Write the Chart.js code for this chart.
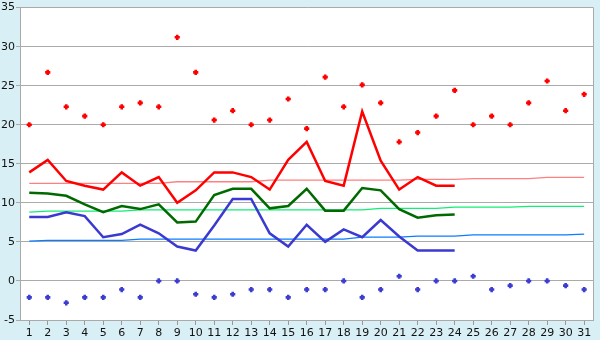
<!DOCTYPE html>
<html>
<head>
<meta charset="utf-8">
<script src="https://cdn.jsdelivr.net/npm/chart.js@4/dist/chart.umd.min.js"></script>
<style>
  html, body { margin: 0; padding: 0; background: #d8eff6; }
  canvas { display: block; }
</style>
</head>
<body>
<canvas id="chart" width="600" height="340"></canvas>
<script>
// Days of the month
const days = ['1','2','3','4','5','6','7','8','9','10','11','12','13','14','15','16',
              '17','18','19','20','21','22','23','24','25','26','27','28','29','30','31'];

// Daily extremes (points)
const maxPoints = [20.0, 26.7, 22.3, 21.1, 20.0, 22.3, 22.8, 22.3, 31.2, 26.7, 20.6, 21.8, 20.0, 20.6, 23.3, 19.5,
                   26.1, 22.3, 25.1, 22.8, 17.8, 19.0, 21.1, 24.4, 20.0, 21.1, 20.0, 22.8, 25.6, 21.8, 23.9];
const minPoints = [-2.1, -2.1, -2.8, -2.1, -2.1, -1.1, -2.1, 0.0, 0.0, -1.7, -2.1, -1.7, -1.1, -1.1, -2.1, -1.1,
                   -1.1, 0.0, -2.1, -1.1, 0.6, -1.1, 0.0, 0.0, 0.6, -1.1, -0.6, 0.0, 0.0, -0.6, -1.1];

// Daily max / mean / min lines (month in progress)
const highLine = [13.9, 15.5, 12.8, 12.2, 11.7, 13.9, 12.2, 13.3, 10.0, 11.6, 13.9, 13.9, 13.3, 11.7, 15.5, 17.8,
                  12.8, 12.2, 21.7, 15.4, 11.7, 13.3, 12.2, 12.2, null, null, null, null, null, null, null];
const meanLine = [11.3, 11.2, 10.9, 9.8, 8.8, 9.6, 9.2, 9.8, 7.5, 7.6, 11.0, 11.8, 11.8, 9.3, 9.6, 11.8,
                  9.0, 9.0, 11.9, 11.6, 9.2, 8.1, 8.4, 8.5, null, null, null, null, null, null, null];
const lowLine  = [8.2, 8.2, 8.8, 8.3, 5.6, 6.0, 7.2, 6.1, 4.4, 3.9, 7.1, 10.5, 10.5, 6.1, 4.4, 7.2,
                  5.0, 6.6, 5.6, 7.8, 5.7, 3.9, 3.9, 3.9, null, null, null, null, null, null, null];

// Long-term normals
const normalHigh = [12.5, 12.5, 12.5, 12.5, 12.5, 12.5, 12.5, 12.5, 12.7, 12.7, 12.7, 12.7, 12.7, 12.9, 12.9, 12.9,
                    12.9, 12.9, 12.9, 12.9, 12.9, 13.0, 13.0, 13.0, 13.1, 13.1, 13.1, 13.1, 13.25, 13.25, 13.25];
const normalMean = [8.8, 8.95, 8.95, 8.95, 8.95, 8.95, 9.1, 9.1, 9.1, 9.1, 9.1, 9.1, 9.1, 9.1, 9.1, 9.1,
                    9.1, 9.1, 9.1, 9.3, 9.3, 9.3, 9.3, 9.45, 9.45, 9.45, 9.45, 9.55, 9.55, 9.55, 9.55];
const normalLow  = [5.1, 5.2, 5.2, 5.2, 5.2, 5.2, 5.35, 5.35, 5.35, 5.35, 5.35, 5.35, 5.35, 5.35, 5.35, 5.35,
                    5.35, 5.35, 5.6, 5.6, 5.6, 5.75, 5.75, 5.75, 5.9, 5.9, 5.9, 5.9, 5.9, 5.9, 6.0];

// Y axis range
const yMin = -5, yMax = 35, yStep = 5;

// White plot area on the pale blue page, thin frame on the right
const frame = {
  id: 'frame',
  beforeDraw(chart) {
    const { ctx, chartArea: a } = chart;
    ctx.save();
    ctx.fillStyle = '#d8eff6';
    ctx.fillRect(0, 0, chart.width, chart.height);
    ctx.fillStyle = '#ffffff';
    ctx.fillRect(a.left, a.top, a.right - a.left, a.bottom - a.top);
    ctx.restore();
  },
  afterDraw(chart) {
    const { ctx, chartArea: a } = chart;
    ctx.save();
    ctx.strokeStyle = '#aaaaaa';
    ctx.lineWidth = 1;
    ctx.beginPath();
    ctx.moveTo(Math.round(a.right) + 0.5, a.top);
    ctx.lineTo(Math.round(a.right) + 0.5, a.bottom);
    ctx.stroke();
    ctx.restore();
  }
};

const lineSet = (data, color, width) => ({
  data, borderColor: color, backgroundColor: color, borderWidth: width,
  pointRadius: 0, tension: 0, fill: false, spanGaps: false
});
// Small chunky plus markers
const pointSet = (data, color) => ({
  data, showLine: false, borderColor: color, backgroundColor: color,
  pointStyle: 'cross', pointRadius: 2.6, pointBorderWidth: 2.6
});

new Chart(document.getElementById('chart'), {
  type: 'line',
  data: {
    labels: days,
    datasets: [
      pointSet(maxPoints, '#ff0000'),
      pointSet(minPoints, '#3c3cd0'),
      lineSet(highLine, '#ff0000', 2.5),
      lineSet(meanLine, '#006a00', 2.5),
      lineSet(lowLine, '#3a3ad0', 2.5),
      lineSet(normalHigh, '#ff8080', 1.3),
      lineSet(normalMean, '#11ee77', 1.3),
      lineSet(normalLow, '#0a7cff', 1.3)
    ]
  },
  options: {
    responsive: false,
    devicePixelRatio: 1,
    animation: false,
    layout: { padding: { top: 5, right: 5, left: 0, bottom: 0 } },
    plugins: { legend: { display: false }, tooltip: { enabled: false } },
    scales: {
      x: {
        type: 'category',
        offset: true,
        grid: { drawOnChartArea: false, drawTicks: true, tickLength: 5, color: '#999999' },
        border: { display: true, color: '#aaaaaa' },
        ticks: { autoSkip: false, maxRotation: 0, padding: 2, color: '#111111',
                 font: { family: 'DejaVu Sans', size: 11 } },
        afterFit(axis) { axis.height = 20; }
      },
      y: {
        min: yMin, max: yMax,
        grid: { color: '#aaaaaa', drawTicks: true, tickLength: 4 },
        border: { display: true, color: '#aaaaaa' },
        ticks: { stepSize: yStep, padding: 1, color: '#111111',
                 font: { family: 'DejaVu Sans', size: 11 } },
        afterFit(axis) { axis.width = 20; }
      }
    }
  },
  plugins: [frame]
});
</script>
</body>
</html>
